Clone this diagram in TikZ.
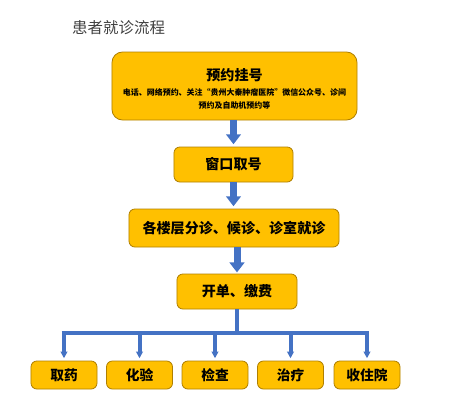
\documentclass[tikz,border=0pt]{standalone}
\usepackage{fontspec}
\newfontfamily\cjk{Noto Sans CJK SC}
\usetikzlibrary{arrows.meta,positioning}
\definecolor{boxfill}{HTML}{FFC000}
\definecolor{boxline}{HTML}{B08000}
\definecolor{flowblue}{HTML}{4472C4}
\definecolor{titlegray}{HTML}{404040}

\begin{document}
\begin{tikzpicture}[x=0.03cm,y=-0.03cm,>=Latex,
  stepbox/.style={draw=boxline,line width=0.7pt,rounded corners=5pt,fill=boxfill,align=center,inner sep=2pt,font=\cjk\bfseries\fontsize{12}{14}\selectfont},
  leafbox/.style={stepbox,minimum width=1.98cm,minimum height=0.84cm,font=\cjk\bfseries\fontsize{11.7}{14}\selectfont},
  bigarrow/.style={draw=flowblue,line width=0.21cm,-{Triangle[length=0.3cm,width=0.44cm]}},
  treeline/.style={draw=flowblue,line width=0.12cm},
  treearrow/.style={treeline,-{Triangle[length=0.2cm,width=0.2cm]}}]
\useasboundingbox (0,0) rectangle (474,411);
\node[anchor=west,text=titlegray,font=\cjk\fontsize{13.2}{15}\selectfont,inner sep=0pt] (title) at (72,28) {患者就诊流程};
\node[stepbox,rounded corners=9pt,minimum width=7.35cm,minimum height=2.04cm] (book) at (234.5,86) {};
\node (booktxt) at (234.5,75) [font=\cjk\bfseries\fontsize{12}{14}\selectfont,inner sep=0pt] {预约挂号};
\node (bookinfo) at (234.5,98.5) [font=\cjk\bfseries\fontsize{6.8}{11}\selectfont,align=center,inner sep=0pt] {电话、网络预约、关注“贵州大秦肿瘤医院”微信公众号、诊间\\预约及自助机预约等};
\node[stepbox,minimum width=3.57cm,minimum height=1.05cm] (window) at (233.5,164.5) {窗口取号};
\node[stepbox,minimum width=6.3cm,minimum height=1.14cm] (visit) at (234,228) {各楼层分诊、候诊、诊室就诊};
\node[stepbox,minimum width=3.6cm,minimum height=1.05cm] (pay) at (237,291.5) {开单、缴费};
\node[leafbox] (drug) at (64,375) {取药};
\node[leafbox] (lab) at (139.5,375) {化验};
\node[leafbox] (exam) at (215,375) {检查};
\node[leafbox] (treat) at (290.5,375) {治疗};
\node[leafbox] (admit) at (367,375) {收住院};
\coordinate (hub) at (237,333);
\draw[bigarrow] (book.south -| window.north) -- ([yshift=2]window.north);
\draw[bigarrow] (window.south) -- ([yshift=2]window.south |- visit.north);
\draw[bigarrow] (pay.north |- visit.south) -- ([yshift=1]pay.north);
\draw[treeline] (pay.south) -- (hub);
\draw[treeline] ([xshift=-2]hub -| drug.north) -- ([xshift=2]hub -| admit.north);
\foreach \leaf in {drug,lab,exam,treat,admit}
  \draw[treearrow] (hub -| \leaf.north) -- ([yshift=2]\leaf.north);
\end{tikzpicture}
\end{document}
